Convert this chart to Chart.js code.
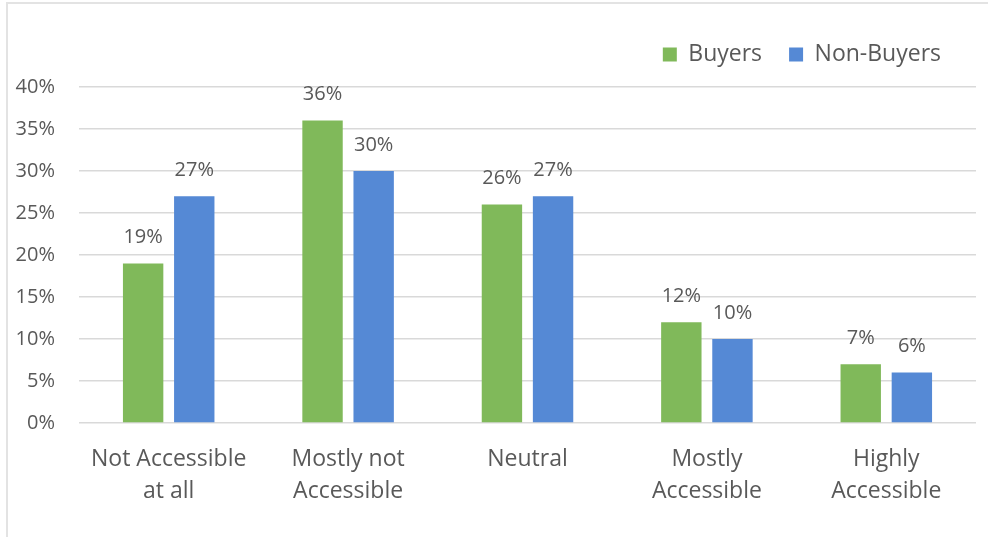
<!DOCTYPE html>
<html>
<head>
<meta charset="utf-8">
<script src="https://cdn.jsdelivr.net/npm/chart.js@4"></script>
<style>
  body { margin: 0; background: #fff; }
  #wrap { position: relative; width: 989px; height: 537px; }
  #frame { position: absolute; left: 6px; top: 2px; width: 980px; height: 540px;
           border-left: 2px solid #e3e3e3; border-top: 2px solid #e3e3e3; }
  canvas { position: absolute; left: 0; top: 0; }
</style>
</head>
<body>
<div id="wrap">
  <div id="frame"></div>
  <canvas id="myChart" width="989" height="537"></canvas>
</div>
<script>
const categories = [
  ['Not Accessible', 'at all'],
  ['Mostly not', 'Accessible'],
  ['Neutral'],
  ['Mostly', 'Accessible'],
  ['Highly', 'Accessible']
];
const buyers = [19, 36, 26, 12, 7];
const nonBuyers = [27, 30, 27, 10, 6];
const yTicks = [0, 5, 10, 15, 20, 25, 30, 35, 40];

const textColor = '#595959';
const fontFamily = "'Open Sans', 'Liberation Sans', sans-serif";

// values above each bar, like excel data labels
const barLabels = {
  id: 'barLabels',
  afterDatasetsDraw(chart) {
    const ctx = chart.ctx;
    ctx.save();
    ctx.font = '20px ' + fontFamily;
    ctx.fillStyle = textColor;
    ctx.textAlign = 'center';
    ctx.textBaseline = 'middle';
    chart.data.datasets.forEach((ds, i) => {
      chart.getDatasetMeta(i).data.forEach((bar, j) => {
        ctx.fillText(ds.data[j] + '%', bar.x, bar.y - 26);
      });
    });
    ctx.restore();
  }
};

// extra room under the legend and pull it a bit to the left
const legendSpace = {
  id: 'legendSpace',
  beforeInit(chart) {
    const fit = chart.legend.fit;
    chart.legend.fit = function () {
      fit.bind(chart.legend)();
      this.height += 11;
    };
  },
  afterLayout(chart) {
    chart.legend.right -= 8;
    chart.legend.left -= 8;
  }
};

new Chart(document.getElementById('myChart'), {
  type: 'bar',
  data: {
    labels: categories,
    datasets: [{
      label: 'Buyers',
      data: buyers,
      backgroundColor: 'rgb(128, 185, 90)',
      barPercentage: 0.79,
      categoryPercentage: 0.57
    }, {
      label: 'Non-Buyers',
      data: nonBuyers,
      backgroundColor: 'rgb(85, 137, 213)',
      barPercentage: 0.79,
      categoryPercentage: 0.57
    }]
  },
  options: {
    responsive: false,
    animation: false,
    layout: { padding: { left: 0, right: 13, top: 16, bottom: 0 } },
    plugins: {
      legend: {
        align: 'end',
        labels: {
          color: textColor,
          font: { size: 23, family: fontFamily },
          boxWidth: 14,
          boxHeight: 14,
          padding: 27
        }
      },
      tooltip: { enabled: false }
    },
    scales: {
      x: {
        afterFit(scale) { scale.height = 114; },
        grid: { display: false },
        border: { display: false },
        ticks: {
          color: textColor,
          font: { size: 23, family: fontFamily, lineHeight: 1.39 },
          padding: 12,
          maxRotation: 0
        }
      },
      y: {
        min: 0,
        max: 40,
        afterFit(scale) { scale.width = 79; },
        afterBuildTicks(scale) { scale.ticks = yTicks.map(v => ({ value: v })); },
        grid: { color: '#d9d9d9', lineWidth: 1.5, drawTicks: false },
        border: { display: false },
        ticks: {
          color: textColor,
          font: { size: 20, family: fontFamily },
          padding: 24,
          callback: v => v + '%'
        }
      }
    }
  },
  plugins: [barLabels, legendSpace]
});
</script>
</body>
</html>
